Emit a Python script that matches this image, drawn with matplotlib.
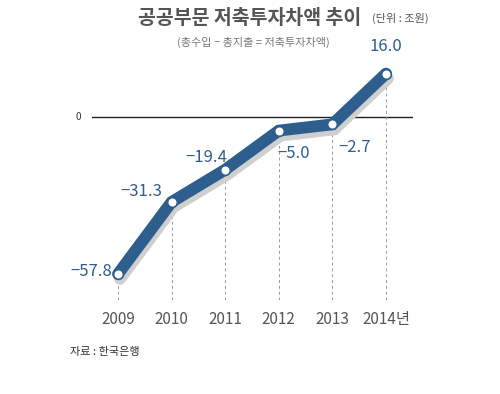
import matplotlib.pyplot as plt
import matplotlib.transforms as mtransforms

plt.rcParams['font.family'] = ['Noto Sans CJK KR', 'DejaVu Sans']

# data
years = [2009, 2010, 2011, 2012, 2013, 2014]
values = [-57.8, -31.3, -19.4, -5.0, -2.7, 16.0]
year_labels = ['2009', '2010', '2011', '2012', '2013', '2014년']
value_labels = ['−57.8', '−31.3', '−19.4', '−5.0', '−2.7', '16.0']

blue = '#2e5e8e'
gray_text = '#555555'

fig = plt.figure(figsize=(5, 3.94), dpi=100)
ax = fig.add_axes([92 / 500, 94 / 394, 321 / 500, 240 / 394])
ax.set_xlim(2008.515, 2014.504)
ax.set_ylim(-67.4, 21.0)
for s in ax.spines.values():
    s.set_visible(False)
ax.set_yticks([])

# zero line
ax.axhline(0, color='#222222', lw=1.0, zorder=1)
ax.annotate('0', xy=(0, 0), xycoords=('axes fraction', 'data'),
            xytext=(-10, 0), textcoords='offset points',
            ha='center', va='center', fontsize=7, color='#333333')

# dashed drop lines
ax.vlines(years, -67.4, values, colors='#999999', linestyles=(0, (3, 3)), lw=0.7, zorder=1)

# shadow
shadow = mtransforms.offset_copy(ax.transData, fig=fig, x=2, y=-5, units='dots')
ax.plot(years, values, color='#cfcfcf', lw=8.5, solid_capstyle='round',
        solid_joinstyle='miter', transform=shadow, zorder=2)
# main line
ax.plot(years, values, color=blue, lw=8.5, solid_capstyle='round',
        solid_joinstyle='miter', zorder=3)
ax.plot(years, values, 'o', ms=7, mfc='white', mec=blue, mew=1.2, zorder=4)

# value labels: (dx, dy) in pixels, ha
offsets = [(-6, 2, 'right'), (-9, 10, 'right'), (-19, 12, 'center'),
           (-1, -23, 'left'), (6, -23, 'left'), (0, 27, 'center')]
for x, y, lab, (dx, dy, ha) in zip(years, values, value_labels, offsets):
    ax.annotate(lab, xy=(x, y), xytext=(dx * 0.72, dy * 0.72), textcoords='offset points',
                ha=ha, va='center', fontsize=12, color=blue)

# x tick labels
ax.set_xticks(years)
ax.set_xticklabels(year_labels, fontsize=11, color=gray_text)
ax.tick_params(axis='x', length=0, pad=8)

# titles
fig.text(0.5, 1 - 18 / 394, '공공부문 저축투자차액 추이', ha='center', va='center',
         fontsize=14, fontweight='bold', color=gray_text)
fig.text(372 / 500, 1 - 18 / 394, '(단위 : 조원)', ha='left', va='center',
         fontsize=8, color=gray_text)
fig.text(0.506, 1 - 42 / 394, '(총수입 − 총지출 = 저축투자차액)', ha='center', va='center',
         fontsize=8, color='#777777')
fig.text(70 / 500, 1 - 352 / 394, '자료 : 한국은행', ha='left', va='center',
         fontsize=8, color='#333333')

fig.savefig('out.png', dpi=100)
